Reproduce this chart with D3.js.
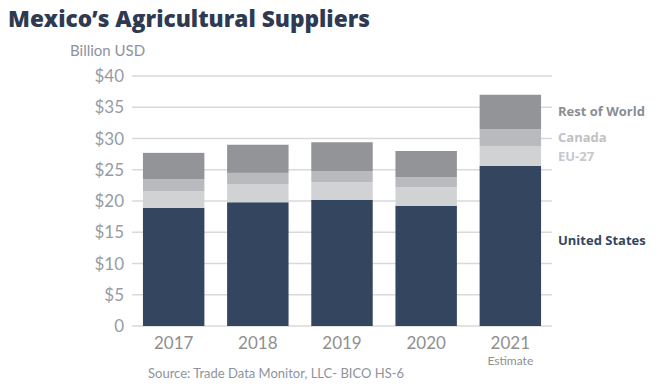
<!DOCTYPE html>
<html>
<head>
<meta charset="utf-8">
<script src="https://cdn.jsdelivr.net/npm/d3@7"></script>
<style>
  body { margin: 0; background: #fff; }
  svg { display: block; font-family: Lato, "Open Sans", sans-serif; }
</style>
</head>
<body>
<div id="chart"></div>
<script>
const years = ['2017', '2018', '2019', '2020', '2021']
const seriesNames = ['United States', 'EU-27', 'Canada', 'Rest of World']
const unitedStates = [18.9, 19.8, 20.2, 19.2, 25.6]
const eu27 = [2.7, 2.9, 2.8, 3.0, 3.2]
const canada = [1.9, 1.8, 1.8, 1.6, 2.7]
const restOfWorld = [4.2, 4.5, 4.6, 4.2, 5.5]
const yTicks = [0, 5, 10, 15, 20, 25, 30, 35, 40]

const colors = ['#344560', '#d1d2d4', '#b9babd', '#939497']
const labelColors = ['#344560', '#c6c8cb', '#bfc1c5', '#8a8d93']

const width = 656
const height = 386
const margin = {top: 76, right: 104, bottom: 60, left: 132}

const rows = years.map((y, i) => ({
  year: y,
  'United States': unitedStates[i],
  'EU-27': eu27[i],
  'Canada': canada[i],
  'Rest of World': restOfWorld[i]
}))

const stacked = d3.stack().keys(seriesNames)(rows)

const svg = d3.select('#chart').append('svg')
  .attr('width', width)
  .attr('height', height)

const x = d3.scaleBand()
  .domain(years)
  .range([margin.left, width - margin.right])
  .paddingInner(0.27)
  .paddingOuter(0.13)

const y = d3.scaleLinear()
  .domain([0, 40])
  .range([height - margin.bottom, margin.top])

// title
svg.append('text')
  .attr('x', 8)
  .attr('y', 27)
  .attr('fill', '#2e3a52')
  .style('font-family', '"Open Sans", "Noto Sans", sans-serif')
  .style('font-weight', 800)
  .style('font-size', '22px')
  .attr('textLength', 362)
  .attr('lengthAdjust', 'spacingAndGlyphs')
  .text('Mexico\u2019s Agricultural Suppliers')

svg.append('text')
  .attr('x', 70)
  .attr('y', 56)
  .attr('fill', '#8e939b')
  .style('font-size', '15px')
  .text('Billion USD')

// grid
svg.append('g')
  .selectAll('line')
  .data(yTicks)
  .join('line')
  .attr('x1', margin.left)
  .attr('x2', width - margin.right)
  .attr('y1', d => y(d))
  .attr('y2', d => y(d))
  .attr('stroke', '#d9d9d9')
  .attr('stroke-width', 1.5)

svg.append('g')
  .selectAll('text')
  .data(yTicks)
  .join('text')
  .attr('x', 124)
  .attr('y', d => y(d))
  .attr('dy', '0.36em')
  .attr('text-anchor', 'end')
  .attr('fill', '#979ba3')
  .style('font-size', '17px')
  .text(d => d === 0 ? '0' : '$' + d)

// bars
svg.append('g')
  .selectAll('g')
  .data(stacked)
  .join('g')
  .attr('fill', (d, i) => colors[i])
  .selectAll('rect')
  .data(d => d)
  .join('rect')
  .attr('x', d => x(d.data.year))
  .attr('y', d => y(d[1]))
  .attr('height', d => y(d[0]) - y(d[1]))
  .attr('width', x.bandwidth())

// x labels
svg.append('g')
  .selectAll('text')
  .data(years)
  .join('text')
  .attr('x', d => x(d) + x.bandwidth() / 2)
  .attr('y', 349)
  .attr('text-anchor', 'middle')
  .attr('fill', '#8f8f8f')
  .style('font-size', '17px')
  .text(d => d)

svg.append('text')
  .attr('x', x('2021') + x.bandwidth() / 2)
  .attr('y', 365)
  .attr('text-anchor', 'middle')
  .attr('fill', '#8f8f8f')
  .style('font-size', '12px')
  .text('Estimate')

svg.append('text')
  .attr('x', 148)
  .attr('y', 378)
  .attr('fill', '#8e939b')
  .style('font-size', '13px')
  .text('Source: Trade Data Monitor, LLC- BICO HS-6')

// series labels beside last bar
const last = years.length - 1
svg.append('g')
  .selectAll('text')
  .data(stacked)
  .join('text')
  .attr('x', 558)
  .attr('y', d => y((d[last][0] + d[last][1]) / 2))
  .attr('dy', (d, i) => i === 0 ? '-0.05em' : '0.35em')
  .attr('fill', (d, i) => labelColors[i])
  .style('font-family', '"Open Sans", sans-serif')
  .style('font-weight', 700)
  .style('font-size', '13px')
  .text(d => d.key)
</script>
</body>
</html>
